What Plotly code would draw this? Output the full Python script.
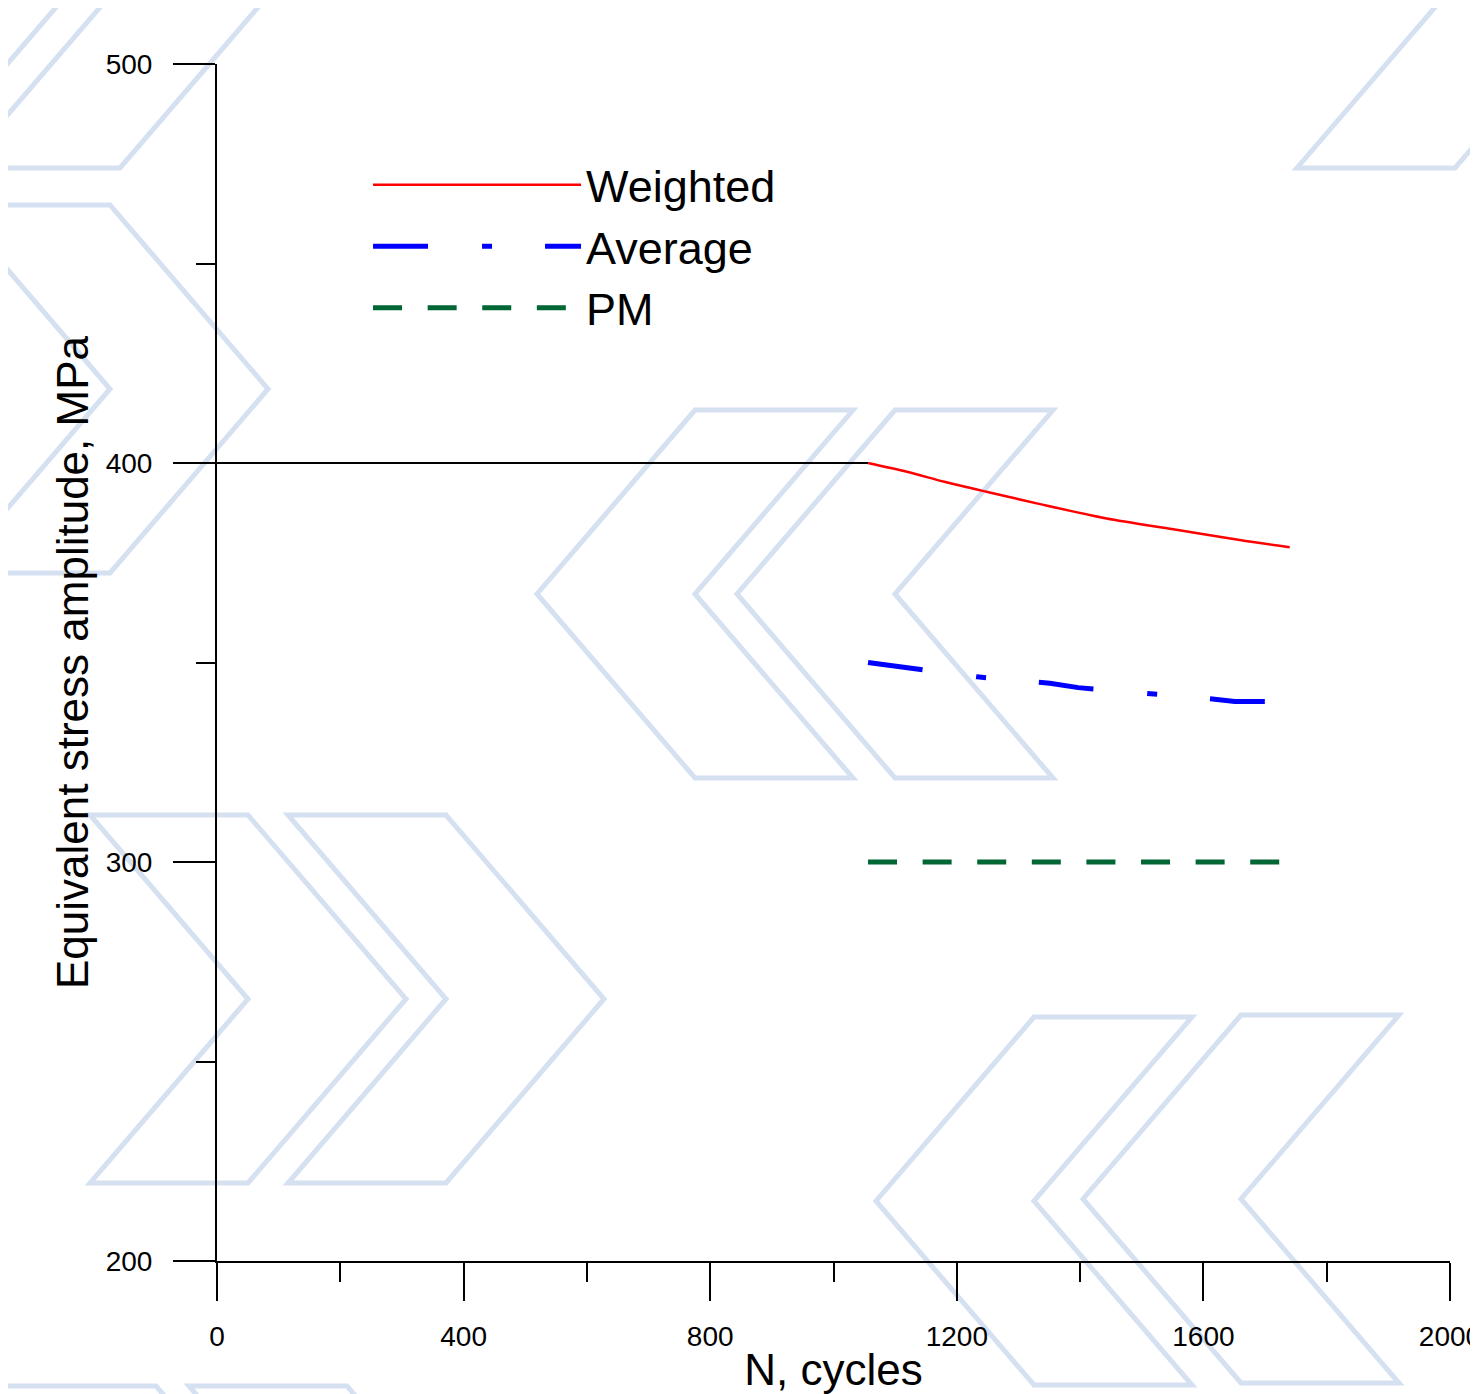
import plotly.graph_objects as go

# ---------------- data ----------------
initial_x = [0, 1056]
initial_y = [400, 400]

weighted_x = [1056, 1119, 1180, 1248, 1335, 1443, 1551, 1659, 1740]
weighted_y = [400.0, 397.8, 395.3, 392.8, 389.7, 386.1, 383.4, 380.7, 378.9]

average_x = [1056, 1084, 1119, 1180, 1233, 1290, 1335, 1351, 1397, 1455, 1510, 1560, 1611, 1651, 1700]
average_y = [350.0, 349.4, 348.6, 347.5, 346.4, 345.6, 345.2, 344.8, 343.7, 343.0, 342.3, 341.6, 340.9, 340.2, 340.2]

pm_x = [1056, 1724]
pm_y = [300, 300]

x_ticks = [0, 400, 800, 1200, 1600, 2000]
y_ticks = [200, 300, 400, 500]

# ---------------- layout constants ----------------
# the page body adds an 8px offset, so the figure is 8px smaller than the window
W, H = 1470, 1386
ML, MR, MT, MB = 209, 28, 56, 133
PW = W - ML - MR          # 1233
PH = H - MT - MB          # 1197
SCREEN_LEFT, SCREEN_BOTTOM = 217, 1261   # plot area corner in window pixels
FONT = "Liberation Sans, Arial, sans-serif"

fig = go.Figure()

fig.add_trace(go.Scatter(x=initial_x, y=initial_y, mode="lines",
                         line=dict(color="black", width=2), showlegend=False, hoverinfo="skip"))
fig.add_trace(go.Scatter(x=weighted_x, y=weighted_y, mode="lines", name="Weighted",
                         line=dict(color="#ff0000", width=2.5, shape="spline", smoothing=0.8)))
fig.add_trace(go.Scatter(x=average_x, y=average_y, mode="lines", name="Average",
                         line=dict(color="#0000ff", width=5, dash="55px,54px,10px,53px")))
fig.add_trace(go.Scatter(x=pm_x, y=pm_y, mode="lines", name="PM",
                         line=dict(color="#006633", width=5, dash="29px,25.6px")))

# ---------------- background watermark (decoration) ----------------
def to_paper(px, py):
    return (px - SCREEN_LEFT) / PW, (SCREEN_BOTTOM - py) / PH

def chevron(a, top, right=True, w=158, d=158, h=368):
    mid, bot = top + h / 2, top + h
    if right:
        pts = [(a, top), (a + w, top), (a + w + d, mid), (a + w, bot), (a, bot), (a + d, mid)]
    else:
        pts = [(a, top), (a + w, top), (a + w - d, mid), (a + w, bot), (a, bot), (a - d, mid)]
    pp = [to_paper(x, y) for x, y in pts]
    return "M " + " L ".join(f"{x:.5f},{y:.5f}" for x, y in pp) + " Z"

marks = [
    (90, 815, True), (288, 815, True),
    (-48, 205, True), (-38, -200, True), (-240, -200, True), (1297, -200, True),
    (695, 410, False), (895, 410, False),
    (1034, 1017, False), (1241, 1015, False),
    (-2, 1386, True), (189, 1386, True),
]
shapes = []
for a, top, r in marks:
    shapes.append(dict(type="path", path=chevron(a, top, r), xref="paper", yref="paper",
                       line=dict(color="rgb(213,224,241)", width=5), layer="below"))

fig.update_layout(
    width=W, height=H,
    margin=dict(l=ML, r=MR, t=MT, b=MB, autoexpand=False),
    paper_bgcolor="white", plot_bgcolor="white",
    font=dict(family=FONT, color="black"),
    shapes=shapes,
    showlegend=True,
    legend=dict(x=0.1225, y=0.929, xanchor="left", yanchor="top",
                font=dict(size=45, family=FONT), itemwidth=208,
                bgcolor="rgba(0,0,0,0)", borderwidth=0),
    xaxis=dict(range=[0, 2000], tickvals=x_ticks, ticks="outside", ticklen=38, tickwidth=2,
               tickcolor="black", showline=True, linewidth=2, linecolor="black",
               showgrid=False, zeroline=False, tickfont=dict(size=28, family=FONT),
               ticklabelstandoff=11, ticklabeloverflow="allow",
               minor=dict(dtick=200, ticks="outside", ticklen=19, tickwidth=2, tickcolor="black",
                          showgrid=False),
               title=dict(text="N, cycles", font=dict(size=44, family=FONT), standoff=24)),
    yaxis=dict(range=[200, 500], tickvals=y_ticks, ticks="outside", ticklen=42, tickwidth=2,
               tickcolor="black", showline=True, linewidth=2, linecolor="black",
               showgrid=False, zeroline=False, tickfont=dict(size=28, family=FONT),
               ticklabelstandoff=15,
               minor=dict(dtick=50, ticks="outside", ticklen=19, tickwidth=2, tickcolor="black",
                          showgrid=False),
               title=dict(text="Equivalent stress amplitude, MPa", font=dict(size=44, family=FONT),
                          standoff=3)),
)

fig.write_html("out.html")
